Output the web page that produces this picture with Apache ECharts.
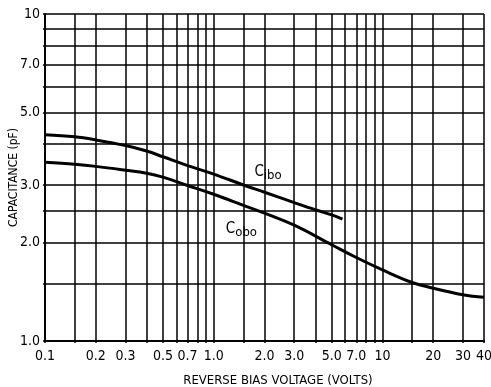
<!DOCTYPE html>
<html><head><meta charset="utf-8">
<script src="https://cdn.jsdelivr.net/npm/echarts@6/dist/echarts.min.js"></script>
<style>html,body{margin:0;padding:0;background:#fff}#c{width:491px;height:387px}</style>
</head><body><div id="c"></div>
<script>
// Grid line positions (log axes)
const xGrid = [0.1,0.15,0.2,0.3,0.4,0.5,0.6,0.7,0.8,0.9,1,1.5,2,3,4,5,6,7,8,9,10,15,20,30,40];
const yGrid = [1,1.5,2,2.5,3,4,5,6,7,8,9,10];
// Tick labels
const xLabelVals = [0.1,0.2,0.3,0.5,0.7,1,2,3,5,7,10,20,30,40];
const xLabelText = ["0.1","0.2","0.3","0.5","0.7","1.0","2.0","3.0","5.0","7.0","10","20","30","40"];
const yLabelVals = [1,2,3,5,7,10];
const yLabelText = ["1.0","2.0","3.0","5.0","7.0","10"];
// Series: Cibo
const ciboX = [0.1,0.15,0.2,0.3,0.4,0.5,0.7,1.0,1.5,2,3,4,5,5.8];
const ciboY = [4.27,4.21,4.12,3.96,3.81,3.66,3.44,3.24,3.00,2.85,2.65,2.52,2.43,2.36];
// Series: Cobo
const coboX = [0.1,0.15,0.2,0.3,0.4,0.5,0.7,1.0,1.5,2,3,5,7,10,15,20,30,40];
const coboY = [3.52,3.47,3.42,3.33,3.26,3.17,2.99,2.81,2.60,2.46,2.26,1.97,1.80,1.65,1.51,1.45,1.385,1.36];
// Curve labels (data coords)
const labelCibo = [2.1, 3.29];
const labelCobo = [1.46, 2.20];

const FONT = '"Liberation Sans Narrow","DejaVu Sans Condensed",sans-serif';
function lookup(vals, texts){
  return function(v){
    for (let i=0;i<vals.length;i++){ if (Math.abs(vals[i]-v) < 1e-6*Math.max(1,vals[i])) return texts[i]; }
    return '';
  };
}
const chart = echarts.init(document.getElementById('c'), null, {renderer:'canvas'});
const lineStyleGrid = {color:'#000', width:1.5};
const curveLabel = (sub) => ({show:true, formatter:'{c|C}{s|' + sub + '}',
  rich:{c:{fontFamily:FONT,fontSize:15,color:'#000'}, s:{fontFamily:FONT,fontSize:13,color:'#000',padding:[8,0,0,0]}}});
chart.setOption({
  animation:false,
  backgroundColor:'#fff',
  grid:{left:45, top:14, width:439, height:327, containLabel:false, outerBoundsMode:'none'},
  xAxis:{
    type:'log', logBase:10, min:0.1, max:40,
    name:'REVERSE BIAS VOLTAGE (VOLTS)', nameLocation:'middle', nameGap:33, nameMoveOverlap:false,
    nameTextStyle:{fontFamily:FONT, fontSize:13, color:'#000', padding:[0,0,0,27]},
    axisLine:{show:true, lineStyle:{color:'#000', width:2}},
    axisTick:{show:true, length:2, customValues:xGrid, lineStyle:{color:'#000', width:1.5}},
    axisLabel:{customValues:xLabelVals, formatter:lookup(xLabelVals,xLabelText), fontFamily:FONT, fontSize:14, color:'#000', margin:8, showMinLabel:true, showMaxLabel:true, hideOverlap:false},
    splitLine:{show:true, lineStyle:lineStyleGrid},
    minorTick:{show:false}
  },
  yAxis:{
    type:'log', logBase:10, min:1, max:10,
    name:'CAPACITANCE (pF)', nameLocation:'middle', nameGap:25, nameRotate:90, nameMoveOverlap:false,
    nameTextStyle:{fontFamily:FONT, fontSize:12, color:'#000'},
    axisLine:{show:true, lineStyle:{color:'#000', width:2}},
    axisTick:{show:true, length:2, customValues:yGrid, lineStyle:{color:'#000', width:1.5}},
    axisLabel:{customValues:yLabelVals, formatter:lookup(yLabelVals,yLabelText), fontFamily:FONT, fontSize:14, color:'#000', margin:5, showMinLabel:true, showMaxLabel:true, hideOverlap:false},
    splitLine:{show:true, lineStyle:lineStyleGrid}
  },
  series:[
    {type:'line', name:'Cibo', data:ciboX.map((x,i)=>[x,ciboY[i]]), smooth:0.4, showSymbol:false, symbol:'none',
     lineStyle:{color:'#000', width:3},
     markPoint:{symbol:'circle', symbolSize:0, data:[{coord:labelCibo, label:curveLabel('ibo')}]}},
    {type:'line', name:'Cobo', data:coboX.map((x,i)=>[x,coboY[i]]), smooth:0.4, showSymbol:false, symbol:'none',
     lineStyle:{color:'#000', width:3},
     markPoint:{symbol:'circle', symbolSize:0, data:[{coord:labelCobo, label:curveLabel('obo')}]}}
  ]
});
</script></body></html>
